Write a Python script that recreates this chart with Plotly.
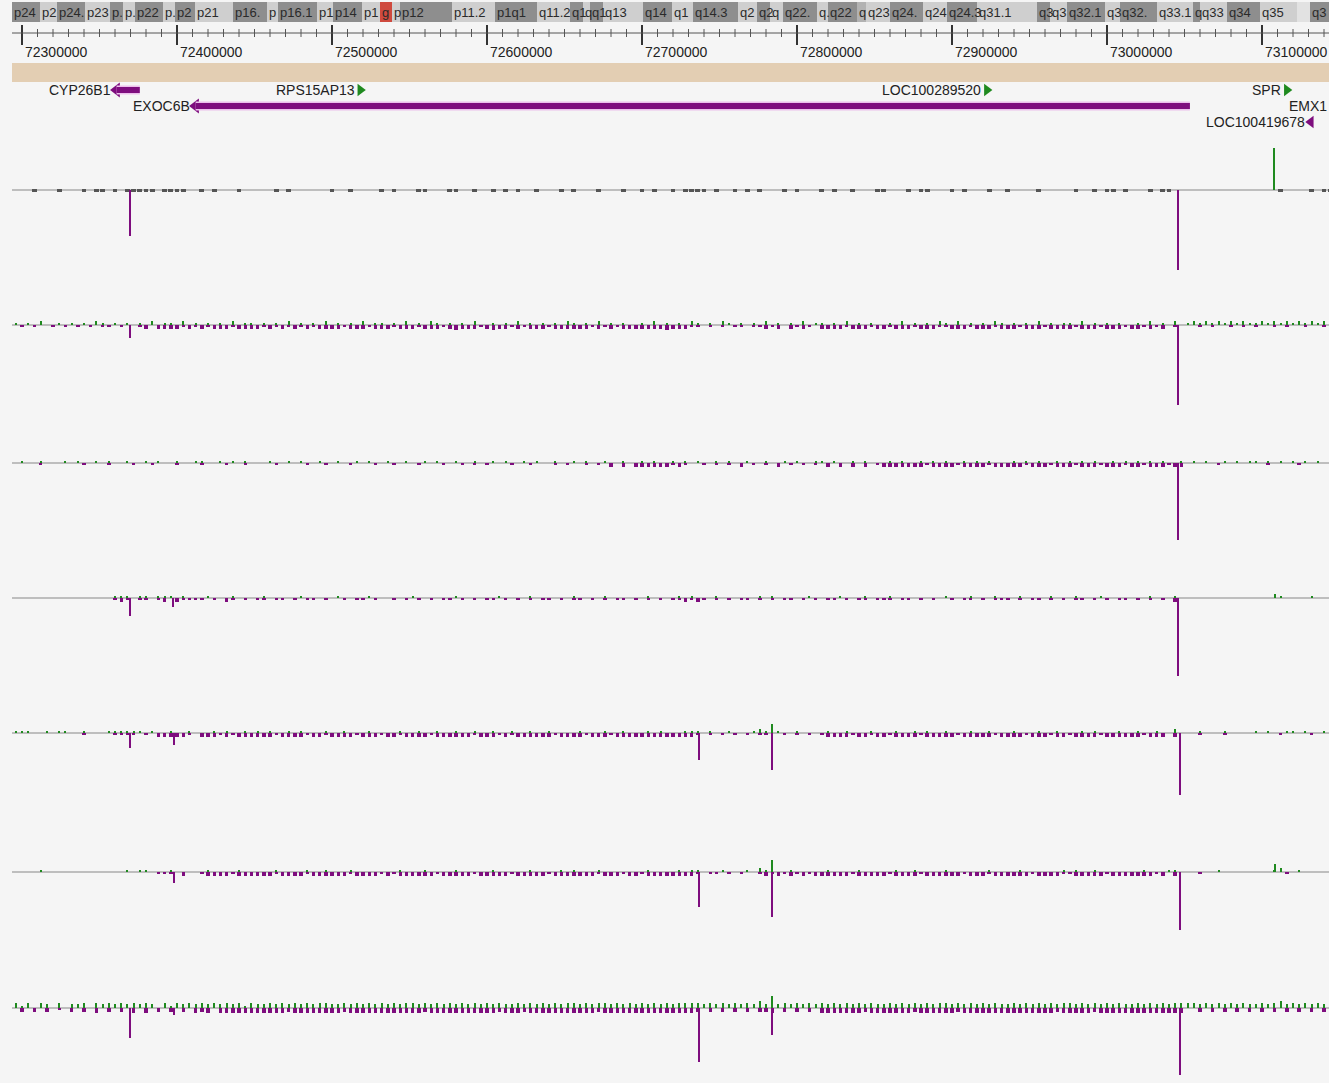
import plotly.graph_objects as go

W, H = 1329, 1083
X_START, X_END = 72293548, 73143226

# ---------------- cytoband ideogram ----------------
BAND_EDGES = [72293548, 72311613, 72322581, 72340645, 72356774, 72365161, 72372903, 72390968,
              72398710, 72411613, 72436129, 72458065, 72465161, 72490323, 72500645, 72519355,
              72530968, 72538710, 72543871, 72577419, 72605161, 72632258, 72653548, 72661935,
              72666452, 72674839, 72700645, 72719355, 72732903, 72761935, 72774194, 72782581,
              72790968, 72812903, 72820000, 72838710, 72844516, 72860000, 72881290, 72896774,
              72916129, 72954839, 72963226, 72974194, 72998710, 73008387, 73032258, 73055484,
              73060000, 73077419, 73098710, 73122581, 73130968, 73143226]
BAND_NAMES = ["p24", "p2", "p24.", "p23", "p.", "p.", "p22", "p.", "p2", "p21", "p16.", "p",
              "p16.1", "p1", "p14", "p1", "g", "p", "p12", "p11.2", "p1q1", "q11.2", "q1", "q",
              "q1", "q13", "q14", "q1", "q14.3", "q2", "q2", "q", "q22.", "q.", "q22", "q",
              "q23", "q24.", "q24", "q24.3", "q31.1", "q3", "q3", "q32.1", "q3", "q32.", "q33.1",
              "q", "q33", "q34", "q35", "", "q3"]
BAND_STAINS = ["d", "l", "d", "l", "d", "l", "d", "l", "d", "l", "d", "l",
               "d", "l", "d", "l", "r", "l", "d", "l", "d", "l", "d", "l",
               "d", "l", "d", "l", "d", "l", "d", "l", "d", "l", "d", "m",
               "l", "d", "l", "d", "l", "d", "l", "d", "l", "d", "l",
               "d", "l", "d", "l", "w", "d"]
STAIN_COLORS = {"d": "#8e8e8e", "l": "#cfcfcf", "m": "#b2b2b2", "r": "#cf4a3e", "w": "#e2e2e2"}

# ---------------- ruler ----------------
RULER_MAJOR = [72300000, 72400000, 72500000, 72600000, 72700000, 72800000, 72900000, 73000000, 73100000]
RULER_LABELS = ["72300000", "72400000", "72500000", "72600000", "72700000",
                "72800000", "72900000", "73000000", "73100000"]
RULER_MINOR_STEP = 10000

# ---------------- genes ----------------
GENE_NAMES = ["CYP26B1", "EXOC6B", "RPS15AP13", "LOC100289520", "SPR", "EMX1", "LOC100419678"]
GENE_START = [72358000, 72409000, 72515500, 72919500, 73113000, 73143226, 73128500]
GENE_END = [72376000, 73053500, 72521000, 72925500, 73119000, 73150000, 73134500]
GENE_STRAND = ["-", "-", "+", "+", "+", "+", "-"]
GENE_ROW = [0, 1, 0, 0, 0, 1, 2]

# ---------------- signal tracks ----------------
SPIKE_POS = [
    [72369677, 73045806, 73107742],
    [72369677, 73045806],
    [73045806],
    [72369677, 72397419, 73045806, 73108387],
    [72369677, 72398065, 72736774, 72783871, 72783871, 73047097],
    [72398065, 72736774, 72783871, 72783871, 73047097, 73108387],
    [72369677, 72398065, 72736774, 72783871, 72783871, 73047097],
]
SPIKE_VAL = [
    [-46, -80, 42],
    [-13, -80],
    [-77],
    [-18, -9, -78, 4],
    [-15, -12, -27, -37, 9, -62],
    [-11, -35, -45, 12, -58, 8],
    [-30, -7, -54, -27, 12, -67],
]

# low-level signal, one digit per 4 kb bin starting at 72296000
NOISE_BIN_START = 72296000
NOISE_BIN = 4000

TRACK1_MARKS = ("0001000100 0101101011 1110111100 1010001000 0010100000 0100100001 0100011000 "
                "1100100101 0100100010 1000100010 0101001011 1101001010 1000101000 1010010001 "
                "1000101100 0101000100 1000010000 0100101101 0001011000 0000000000 0000100001 011")

NOISE_UP = [
    "",
    ("1010200101 0102101010 1020110201 0101020110 1010201010 2010102011 0102010210 "
     "1010200101 0201010102 1010201010 0102010102 1010210101 0201010201 1010201010 "
     "0102010102 1020101021 0101020101 1020101010 0102010201 2121212121 1212121212 121"),
    ("0100100010 1001010010 0101001001 1001010100 0100101001 0010010100 1001001010 "
     "0100100101 0010100100 1010010010 0101001010 1001010010 0100101001 1010010100 "
     "0101001010 1001010100 0101010010 1010100101 0101010010 1010010101 1010101010 101"),
    ("0000000000 0000001110 1101110100 0100010000 1000001000 0010000100 0000100000 "
     "0100000010 0001000000 1000010000 0010000101 0001000000 1010000010 0001000100 "
     "0100000000 1000100010 0010000100 0100010000 0001000100 0000000000 0000100001 000"),
    ("1110010110 0100011111 1010010010 0010100101 0100101000 1001000100 0010010010 "
     "0100100100 1001001000 0100010010 0010100011 1010010001 2101001000 0100100010 "
     "0010010100 1000100100 0100010010 0010100010 0100100200 0100010000 1010011010 010"),
    ("0000100000 0000000010 1100010000 0100001000 0010000100 1000100000 0010001000 "
     "0100000100 0001000010 1000100000 0010000101 1000100010 2110010000 0100001000 "
     "0010010000 1000000100 0010000001 0100100000 0010001100 0000100000 0001200100 000"),
    ("3130320302 2303232323 2320313232 3232323132 2323232323 3223232323 2323323232 "
     "3232323232 2323232323 3232332323 2323232333 3232323232 4232323232 3232323232 "
     "2323232323 3232323232 2323232323 3232323232 2323232333 3232323232 2323423232 323"),
]
NOISE_DOWN = [
    "",
    ("0101001010 1010110100 1202222121 2122212222 1212121212 2221222122 2122212221 "
     "2322212322 1212221222 2221212122 2222232221 1010101101 1212021210 2222122212 "
     "2122212221 1222122212 2212221222 2122212221 2212120100 0101001010 1001010010 010"),
    ("0000100000 0100010001 0010001000 1000100100 0010000100 1000100010 0100010001 "
     "0010101000 1001000101 0010102020 2222221210 0101010201 0102010101 0202020201 "
     "2222222122 2212222122 2221222122 2122212221 2212221220 0000100000 0010000100 000"),
    ("0000000000 0000001210 1101202111 1010210101 1011010110 1001011010 0101010101 "
     "1010101101 0101011010 1101010110 1010101121 2101010110 1010110101 0110101101 "
     "1101101010 0101101011 1010110101 0110101011 0101010200 0000000000 0000000000 000"),
    ("0000000000 0100001111 0102222210 2221212222 2212222122 1222212221 2212222122 "
     "2222122212 1222222122 2212221222 2222222222 1010101010 1100101010 1222212212 "
     "2122221222 2212222212 2221222122 1222212222 2212220200 0100010000 0000100001 000"),
    ("0000000000 0000000000 0001110200 1222212222 2212222122 2222122221 2122222212 "
     "2222122222 1222221222 2222122212 2122222222 1011010100 1212121212 2222212222 "
     "2122221222 2221222122 2222122221 1222221222 2222120200 0100000000 0000010000 000"),
    ("0202020102 0203020203 0302020203 2303333333 3333233333 3332333333 3333332333 "
     "3333333323 3323333333 3333233333 3333333333 2020202020 2230202020 3333333233 "
     "3333323333 3323333333 3333333323 3333233333 3333333330 0202020202 0202020202 020"),
]

# ---------------- layout constants (pixels) ----------------
TRACK_BASE_PX = [190, 325, 463, 598, 733, 872, 1008]
GENE_ROW_PX = [90, 106, 122]
NOISE_UNIT = 1.8
PURPLE = "#7e0d7e"
GREEN = "#1f8a1f"
BG = "#f5f5f5"
FONT = "Liberation Sans, Arial, sans-serif"

fig = go.Figure()
shapes = []
annotations = []

# ideogram bands
for i, name in enumerate(BAND_NAMES):
    shapes.append(dict(type="rect", xref="x", yref="y", x0=BAND_EDGES[i], x1=BAND_EDGES[i + 1],
                       y0=2, y1=22, fillcolor=STAIN_COLORS[BAND_STAINS[i]], line=dict(width=0),
                       layer="below"))
    if name:
        annotations.append(dict(x=BAND_EDGES[i], y=12, xref="x", yref="y", text=name,
                                showarrow=False, xanchor="left", yanchor="middle", xshift=0,
                                font=dict(family=FONT, size=13, color="#2a2a2a")))

# ruler
shapes.append(dict(type="line", xref="x", yref="y", x0=X_START, x1=X_END, y0=33, y1=33,
                   line=dict(color="#555555", width=1)))
minor_x, minor_y = [], []
p = RULER_MAJOR[0]
while p < X_END:
    minor_x += [p, p, None]
    minor_y += [29, 37, None]
    p += RULER_MINOR_STEP
fig.add_trace(go.Scatter(x=minor_x, y=minor_y, mode="lines", line=dict(color="#555555", width=1),
                         hoverinfo="skip", xaxis="x", yaxis="y"))
maj_x, maj_y = [], []
for m, lab in zip(RULER_MAJOR, RULER_LABELS):
    maj_x += [m, m, None]
    maj_y += [25, 45, None]
    annotations.append(dict(x=m, y=52, xref="x", yref="y", text=lab, showarrow=False,
                            xanchor="left", yanchor="middle", xshift=1,
                            font=dict(family=FONT, size=14, color="#222222")))
fig.add_trace(go.Scatter(x=maj_x, y=maj_y, mode="lines", line=dict(color="#333333", width=2),
                         hoverinfo="skip", xaxis="x", yaxis="y"))

# tan bar
shapes.append(dict(type="rect", xref="x", yref="y", x0=X_START, x1=X_END, y0=63, y1=82,
                   fillcolor="#e3ceb3", line=dict(width=0), layer="below"))

# genes
for name, s, e, strand, row in zip(GENE_NAMES, GENE_START, GENE_END, GENE_STRAND, GENE_ROW):
    y = GENE_ROW_PX[row]
    col = PURPLE if strand == "-" else GREEN
    if s >= X_END:
        annotations.append(dict(x=X_END, y=y, xref="x", yref="y", text=name, showarrow=False,
                                xanchor="right", yanchor="middle",
                                font=dict(family=FONT, size=14, color="#222222")))
        continue
    if e - s > 15000:
        shapes.append(dict(type="line", xref="x", yref="y", x0=s + 3000, x1=e, y0=y, y1=y,
                           line=dict(color="#ecc0ec", width=9), layer="above"))
        shapes.append(dict(type="line", xref="x", yref="y", x0=s + 3000, x1=e, y0=y, y1=y,
                           line=dict(color=col, width=6), layer="above"))
        fig.add_trace(go.Scatter(x=[s + 3000], y=[y], mode="markers",
                                 marker=dict(symbol="triangle-left", size=13, color=col),
                                 hoverinfo="skip", xaxis="x", yaxis="y"))
    else:
        sym = "triangle-left" if strand == "-" else "triangle-right"
        fig.add_trace(go.Scatter(x=[(s + e) / 2], y=[y], mode="markers",
                                 marker=dict(symbol=sym, size=11, color=col),
                                 hoverinfo="skip", xaxis="x", yaxis="y"))
    annotations.append(dict(x=s, y=y, xref="x", yref="y", text=name, showarrow=False,
                            xanchor="right", yanchor="middle", xshift=1,
                            font=dict(family=FONT, size=14, color="#222222")))


def parse(s):
    s = s.replace(" ", "")
    xs, vs = [], []
    for i, ch in enumerate(s):
        d = int(ch)
        if d:
            xs.append(NOISE_BIN_START + NOISE_BIN * i)
            vs.append(d)
    return xs, vs


layout_axes = {}
for t, B in enumerate(TRACK_BASE_PX):
    k = t + 2
    hi = min(90, B)
    lo = min(90, H - B)
    layout_axes[f"yaxis{k}"] = dict(domain=[1 - (B + lo) / H, 1 - (B - hi) / H], range=[-lo, hi],
                                    visible=False, fixedrange=True)
    ya = f"y{k}"
    shapes.append(dict(type="line", xref="x", yref=ya, x0=X_START, x1=X_END, y0=0, y1=0,
                       line=dict(color="#ababab", width=1.5), layer="below"))
    if t == 0:
        mx, mv = parse(TRACK1_MARKS)
        fig.add_trace(go.Bar(x=mx, y=[3] * len(mx), base=[-1.5] * len(mx), width=3000,
                             marker=dict(color="#555555", line=dict(width=0)),
                             hoverinfo="skip", xaxis="x", yaxis=ya))
    else:
        ux, uv = parse(NOISE_UP[t])
        fig.add_trace(go.Bar(x=ux, y=[v * NOISE_UNIT for v in uv], width=1400,
                             marker=dict(color=GREEN, line=dict(width=0)),
                             hoverinfo="skip", xaxis="x", yaxis=ya))
        dx, dv = parse(NOISE_DOWN[t])
        fig.add_trace(go.Bar(x=dx, y=[-v * NOISE_UNIT for v in dv], width=2200,
                             marker=dict(color=PURPLE, line=dict(width=0)),
                             hoverinfo="skip", xaxis="x", yaxis=ya))
    sp, sv = SPIKE_POS[t], SPIKE_VAL[t]
    fig.add_trace(go.Bar(x=sp, y=sv, width=1900,
                         marker=dict(color=[GREEN if v > 0 else PURPLE for v in sv], line=dict(width=0)),
                         hoverinfo="skip", xaxis="x", yaxis=ya))

fig.update_layout(
    width=W, height=H,
    margin=dict(l=0, r=0, t=0, b=0),
    paper_bgcolor=BG, plot_bgcolor="rgba(0,0,0,0)",
    showlegend=False, barmode="overlay", bargap=0,
    xaxis=dict(domain=[12 / W, 1], range=[X_START, X_END], visible=False, fixedrange=True),
    yaxis=dict(domain=[0, 1], range=[H, 0], visible=False, fixedrange=True),
    shapes=shapes, annotations=annotations,
    **layout_axes,
)

fig.write_html(
    "out.html",
    config={"displayModeBar": False, "staticPlot": True},
    post_script="document.body.style.margin='0';document.body.style.padding='0';"
                "document.body.style.background='" + BG + "';document.body.style.overflow='hidden';",
)
